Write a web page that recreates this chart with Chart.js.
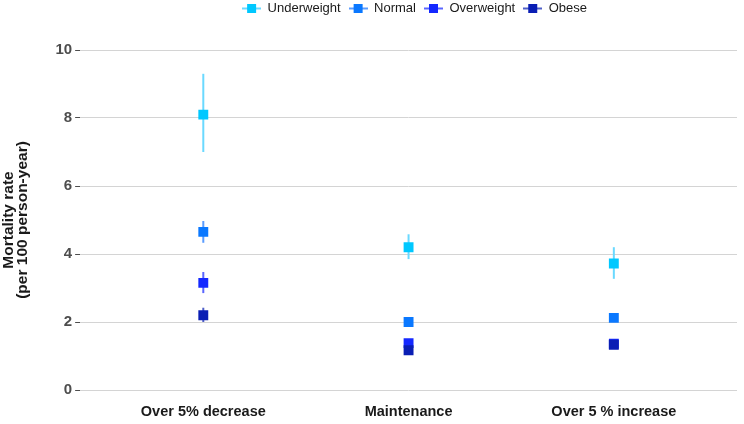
<!DOCTYPE html>
<html>
<head>
<meta charset="utf-8">
<script src="https://cdn.jsdelivr.net/npm/chart.js@4"></script>
<style>
	html, body { margin: 0; padding: 0; background: #fff; }
	#wrap { width: 744px; height: 424px; position: relative; }
</style>
</head>
<body>
<div id="wrap"><canvas id="mort-canvas"></canvas></div>
<script>
const categories = ["Over 5% decrease", "Maintenance", "Over 5 % increase"];
const groups = ["Underweight", "Normal", "Overweight", "Obese"];
const colors = ["#00c8ff", "#0a78ff", "#1428ff", "#0a1eb4"];
const barColors = ["#6ad9ff", "#5a9cff", "#5a66ff", "#5060c8"];

const underweight = [8.1, 4.2, 3.72];
const underweightLow = [7.0, 3.85, 3.27];
const underweightHigh = [9.3, 4.58, 4.2];

const normal = [4.65, 2.0, 2.12];
const normalLow = [4.33, 1.9, 2.02];
const normalHigh = [4.97, 2.1, 2.22];

const overweight = [3.15, 1.38, 1.36];
const overweightLow = [2.85, 1.3, 1.27];
const overweightHigh = [3.47, 1.46, 1.45];

const obese = [2.2, 1.17, 1.33];
const obeseLow = [2.0, 1.07, 1.24];
const obeseHigh = [2.42, 1.27, 1.43];

const yTicks = [0, 2, 4, 6, 8, 10];

const values = [underweight, normal, overweight, obese];
const lows = [underweightLow, normalLow, overweightLow, obeseLow];
const highs = [underweightHigh, normalHigh, overweightHigh, obeseHigh];

// legend icon: short line through a square, like the ggplot key
function legendIcon(col, barCol) {
	const c = document.createElement("canvas");
	c.width = 19;
	c.height = 11;
	const g = c.getContext("2d");
	g.strokeStyle = barCol;
	g.lineWidth = 2;
	g.beginPath();
	g.moveTo(0, 5.5);
	g.lineTo(19, 5.5);
	g.stroke();
	g.fillStyle = col;
	g.fillRect(5, 1, 9, 9);
	return c;
}

const errorBars = {
	id: "errorBars",
	beforeDatasetsDraw(chart) {
		const ctx = chart.ctx;
		const x = chart.scales.x;
		const y = chart.scales.y;
		ctx.save();
		ctx.lineWidth = 2;
		lows.forEach((lo, d) => {
			ctx.strokeStyle = barColors[d];
			lo.forEach((v, i) => {
				const px = x.getPixelForValue(i + 1);
				ctx.beginPath();
				ctx.moveTo(px, y.getPixelForValue(v));
				ctx.lineTo(px, y.getPixelForValue(highs[d][i]));
				ctx.stroke();
			});
		});
		ctx.restore();
	},
};

// keep the legend high up and centred over the plot, leave room below it
const legendSpace = {
	id: "legendSpace",
	beforeInit(chart) {
		const fit = chart.legend.fit;
		chart.legend.fit = function () {
			fit.call(this);
			this.height = 50;
		};
	},
	afterLayout(chart) {
		const lg = chart.legend;
		lg.top = -6;
		lg.left = chart.chartArea.left + 6;
		lg.right = chart.chartArea.right + 6;
	},
};

const mortCanvas = document.getElementById("mort-canvas").getContext("2d");

Chart.defaults.font.family = "Liberation Sans";
Chart.defaults.color = "#4d4d4d";

const mortChart = new Chart(mortCanvas, {
	type: "scatter",
	data: {
		datasets: groups.map((name, d) => ({
			label: name,
			data: values[d].map((v, i) => ({ x: i + 1, y: v })),
			order: groups.length - d,
			pointStyle: "rect",
			pointRadius: 7,
			pointHoverRadius: 7,
			borderWidth: 0,
			backgroundColor: colors[d],
			borderColor: colors[d],
		})),
	},
	options: {
		responsive: true,
		maintainAspectRatio: false,
		animation: false,
		layout: { padding: { top: 0, right: 3, bottom: 0, left: 1 } },
		plugins: {
			tooltip: { enabled: false },
			legend: {
				position: "top",
				labels: {
					usePointStyle: true,
					pointStyleWidth: 19,
					color: "#1a1a1a",
					font: { size: 13 },
					padding: 8,
					generateLabels: (chart) =>
						groups.map((name, d) => ({
							text: name,
							pointStyle: legendIcon(colors[d], barColors[d]),
							fillStyle: colors[d],
							strokeStyle: colors[d],
							lineWidth: 0,
							datasetIndex: d,
							fontColor: "#1a1a1a",
						})),
				},
			},
		},
		scales: {
			x: {
				type: "linear",
				min: 0.4,
				max: 3.6,
				afterBuildTicks: (axis) => {
					axis.ticks = categories.map((c, i) => ({ value: i + 1 }));
				},
				afterFit: (axis) => {
					axis.height = 34;
				},
				ticks: {
					callback: (v) => categories[v - 1],
					font: { size: 14.5, weight: "bold" },
					color: "#1a1a1a",
					padding: 13,
				},
				grid: { display: false, drawTicks: false },
				border: { display: false },
			},
			y: {
				min: 0,
				max: 10,
				afterBuildTicks: (axis) => {
					axis.ticks = yTicks.map((v) => ({ value: v }));
				},
				ticks: {
					font: { size: 15, weight: "bold" },
					color: "#4d4d4d",
					padding: 3,
				},
				grid: {
					color: "#d4d4d4",
					lineWidth: 1,
					tickLength: 5,
					tickColor: "#4d4d4d",
				},
				border: { display: false },
				title: {
					display: true,
					text: ["Mortality rate", "(per 100 person-year)"],
					font: { size: 15.5, weight: "bold", lineHeight: 0.95 },
					color: "#1a1a1a",
					padding: { top: 0, bottom: 22 },
				},
			},
		},
	},
	plugins: [errorBars, legendSpace],
});
</script>
</body>
</html>
